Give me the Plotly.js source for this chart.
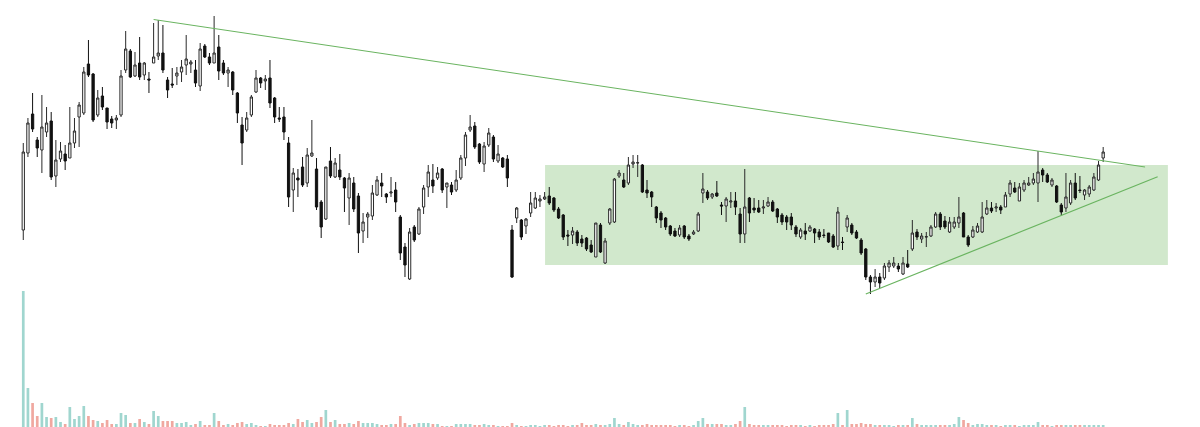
<!DOCTYPE html>
<html>
<head>
<meta charset="utf-8">
<script src="https://cdn.plot.ly/plotly-3.0.1.min.js"></script>
<style>html,body{margin:0;padding:0;background:#fff;}#chart{width:1200px;height:427px;}</style>
</head>
<body>
<div id="chart"></div>
<script>
// Price levels (arbitrary units; higher = up)
const openP = [
70,147,186,160,150,168,179,124,141,146,
142,157,183,187,236,226,185,204,192,181,
180,185,230,249,224,237,225,221,237,244,
247,220,216,224,228,235,236,230,214,254,
243,237,253,237,227,228,207,175,170,185,
208,222,219,222,202,182,183,157,110,122,
133,117,144,131,98,81,139,123,130,122,
102,117,104,69,83,84,105,117,106,107,
110,83,53,21,73,66,93,113,120,122,
131,113,115,110,122,142,170,174,156,136,
155,163,139,142,141,70,82,80,74,87,
92,99,101,104,102,91,85,65,65,68,
61,62,55,43,75,37,77,78,124,120,
117,136,137,135,110,108,93,87,82,74,
69,65,74,64,66,69,107,108,103,107,
95,94,98,99,86,66,102,92,92,92,
94,98,91,85,83,83,73,63,69,69,
71,68,65,67,64,54,58,73,75,68,
60,51,23,18,23,22,33,34,34,26,
36,51,68,61,63,64,73,86,79,68,
73,77,87,63,63,68,68,86,92,92,
93,93,106,112,99,110,115,117,117,130,
125,115,114,95,92,97,117,110,105,106,
110,120,142];
const highP = [
157,182,207,163,205,193,188,160,158,155,
193,182,198,233,260,227,210,213,192,184,
185,230,269,251,248,263,238,228,277,280,
275,223,232,233,240,265,240,240,257,256,
247,284,265,240,233,229,208,183,188,205,
230,223,225,240,203,193,193,163,132,131,
143,152,180,142,100,133,153,142,146,123,
127,123,107,87,88,115,124,127,107,123,
118,85,57,72,75,93,115,135,136,133,
132,117,118,130,145,168,185,178,157,158,
172,165,155,143,145,75,93,81,82,108,
108,105,108,113,103,93,86,70,73,70,
65,63,60,77,77,62,92,122,130,127,
143,145,145,136,120,109,94,89,83,75,
72,75,75,66,70,88,127,110,107,119,
98,103,108,108,92,131,103,102,100,100,
103,100,92,87,85,87,75,72,77,75,
72,71,71,67,66,93,63,85,77,70,
62,52,25,31,27,37,40,43,37,43,
50,80,71,67,68,75,88,88,84,83,
83,103,88,65,74,77,98,100,98,97,
95,108,120,118,117,120,123,127,149,132,
127,122,115,97,127,120,127,124,111,115,
127,139,153];
const lowP = [
60,143,168,143,127,163,120,113,138,130,
142,152,153,185,223,178,183,190,171,172,
171,183,227,222,223,220,220,207,237,240,
227,202,212,215,218,225,227,213,209,242,
235,237,220,225,213,205,177,135,168,183,
207,212,210,192,177,178,160,93,88,103,
113,113,143,90,62,80,122,122,120,88,
75,88,47,57,62,80,104,103,97,103,
88,40,23,20,58,65,86,103,107,120,
107,92,105,108,120,134,168,151,136,128,
153,138,137,132,113,22,77,60,66,83,
91,93,100,95,88,81,60,54,56,54,
53,49,47,43,47,36,75,77,122,112,
115,132,123,107,102,93,77,72,70,64,
63,63,61,59,65,68,97,100,101,103,
85,78,92,85,57,57,78,87,87,86,
93,88,77,75,70,70,63,61,60,68,
57,60,62,57,52,50,50,68,65,61,
45,20,6,13,12,20,28,32,28,25,
32,49,60,57,53,63,72,70,71,67,
71,72,63,53,62,67,67,85,87,88,
86,93,103,107,99,108,114,115,98,118,
117,113,97,85,88,95,100,107,100,103,
109,119,138];
const closeP = [
148,177,171,152,173,177,123,140,149,139,
157,169,195,228,225,180,202,193,178,177,
182,224,251,223,235,223,237,220,243,247,
230,210,215,227,233,241,238,217,251,243,
237,247,229,227,230,210,187,157,182,203,
222,217,221,197,183,181,168,103,127,120,
115,145,147,93,73,133,124,137,123,112,
122,91,67,78,86,107,120,114,103,108,
98,47,35,68,60,91,112,128,114,127,
110,117,108,120,142,165,173,153,138,154,
167,141,146,133,122,23,92,63,81,97,
102,101,103,97,90,82,63,64,69,57,
57,51,48,77,48,59,91,121,127,113,
135,138,137.3,108,107,103,82,80,73,66,
64,72,63,61,68,86,111,102,106,104,
94,101,99,93,66,93,87,90,88,93,
98,89,83,78,78,75,66,70,66,73,
67,63,64.5,58,53,88,57.5,82,67,62,
47,23,18,23,17,34,37,37,31,37,
33,67,63,64,63.3,73,86,73,73,78,
78,83,63,55,70,74,83,92,89,93,
90,105,117,108,113,117,117,121,128,125,
118,120,98,88,103,117,102,109.5,110,113,
123,135,148];
const volume = [
136,39,24,11,24,10,9,10,5,3,
20,8,11,21,11,7,6,4,7,3,
3,14,12,4,4,8,5,3,16,11,
6,6,6,4,4,5,2,3,6,2,
2,14,6,2,3,2,4,5,3,4,
2,1,1,3,2,2,2,4,3,8,
5,7,4,5,10,17,5,7,3,3,
4,3,6,4,4,4,3,2,2,3,
3,11,4,2,3,4,4,4,3,3,
1,1,1,3,3,3,3,2,2,3,
2,2,1,1,1,4,2,1,1,2,
2,1,2,2,1,2,2,1,2,2,
4,2,2,3,2,2,3,9,3,2,
5,3,2,2,3,2,2,2,2,2,
1,2,2,1,2,6,9,3,3,3,
3,2,2,3,6,20,3,2,2,2,
2,2,2,2,1,2,2,2,1,2,
1,2,2,2,3,14,2,17,3,3,
4,3,3,2,2,2,2,1,2,2,
2,9,3,2,2,2,2,2,2,2,
3,10,7,4,2,3,3,2,2,2,
1,2,2,2,1,2,2,2,5,2,
2,1,2,2,2,2,2,2,2,2,
2,2,2];

// Drawing overlays (bar index, price level)
const resistanceLine = {bar: [28, 241], level: [280.5, 133]};
const supportLine = {bar: [181, 243.7], level: [6, 123.2]};
const rangeZone = {bar: [112.1, 245.9], level: [35, 135]};

const idx = openP.map((_, i) => i);
const upColor = 'rgb(160,214,207)';
const downColor = 'rgb(240,168,160)';
const volColors = idx.map(i => closeP[i] >= openP[i] ? upColor : downColor);

const traces = [
  {
    type: 'bar', x: idx, y: volume, yaxis: 'y2',
    marker: {color: volColors, line: {width: 0}},
    hoverinfo: 'skip', showlegend: false
  },
  {
    type: 'candlestick', x: idx, open: openP, high: highP, low: lowP, close: closeP,
    increasing: {line: {color: '#2a2a2a', width: 1}, fillcolor: '#ffffff'},
    decreasing: {line: {color: '#111111', width: 1}, fillcolor: '#111111'},
    whiskerwidth: 0, hoverinfo: 'skip', showlegend: false
  },
  {
    type: 'scatter', mode: 'lines', x: resistanceLine.bar, y: resistanceLine.level,
    line: {color: 'rgb(106,180,96)', width: 1}, hoverinfo: 'skip', showlegend: false
  },
  {
    type: 'scatter', mode: 'lines', x: supportLine.bar, y: supportLine.level,
    line: {color: 'rgb(106,180,96)', width: 1.2}, hoverinfo: 'skip', showlegend: false
  }
];

const layout = {
  width: 1200, height: 427,
  margin: {l: 0, r: 0, t: 0, b: 0},
  paper_bgcolor: '#ffffff', plot_bgcolor: '#ffffff',
  showlegend: false,
  bargap: 0.42,
  boxgap: 0.3,
  xaxis: {range: [-5.0, 252.8], visible: false, rangeslider: {visible: false}, fixedrange: true},
  yaxis: {range: [-127, 300], visible: false, fixedrange: true},
  yaxis2: {range: [0, 427], visible: false, overlaying: 'y', fixedrange: true},
  shapes: [{
    type: 'rect', xref: 'x', yref: 'y', layer: 'below',
    x0: rangeZone.bar[0], x1: rangeZone.bar[1], y0: rangeZone.level[0], y1: rangeZone.level[1],
    fillcolor: 'rgb(209,232,204)', line: {width: 0}
  }]
};

Plotly.newPlot('chart', traces, layout, {staticPlot: true, displayModeBar: false});
</script>
</body>
</html>
